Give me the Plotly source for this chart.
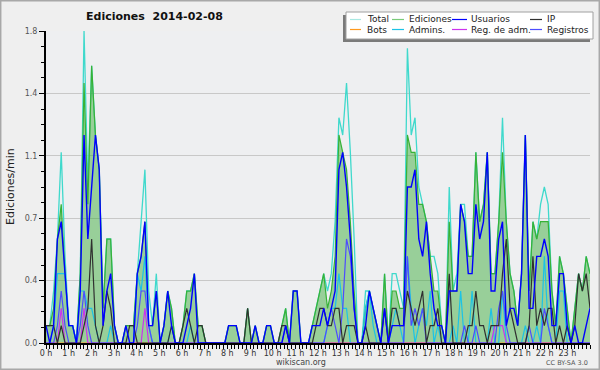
import plotly.graph_objects as go

# ---------------- data (edits per minute, 10-minute bins, 2014-02-08) ----------------
hour_labels = [f"{h} h" for h in range(24)]
y_tick_vals = [0, 0.36, 0.72, 1.08, 1.44, 1.8]
y_tick_text = ["0.0", "0.4", "0.7", "1.1", "1.4", "1.8"]

total = [
    0.1, 0.1, 0.3, 0.6, 1.1, 0.5, 0.1, 0.1, 0.0, 0.4,
    1.8, 0.9, 1.6, 1.2, 1.0, 0.2, 0.6, 0.6, 0.1, 0.0,
    0.0, 0.1, 0.1, 0.1, 0.4, 0.7, 1.0, 0.3, 0.1, 0.4,
    0.0, 0.1, 0.3, 0.2, 0.0, 0.0, 0.1, 0.3, 0.3, 0.4,
    0.1, 0.1, 0.0, 0.0, 0.0, 0.0, 0.0, 0.0, 0.1, 0.1,
    0.1, 0.0, 0.0, 0.2, 0.0, 0.1, 0.0, 0.0, 0.1, 0.1,
    0.0, 0.0, 0.1, 0.2, 0.0, 0.3, 0.3, 0.0, 0.0, 0.0,
    0.1, 0.2, 0.3, 0.4, 0.3, 0.4, 0.7, 1.3, 1.2, 1.5,
    1.1, 0.6, 0.0, 0.0, 0.3, 0.3, 0.2, 0.1, 0.0, 0.4,
    0.0, 0.4, 0.4, 0.3, 0.2, 1.7, 1.2, 1.3, 0.9, 0.8,
    0.7, 0.5, 0.5, 0.4, 0.1, 0.0, 0.9, 0.3, 0.4, 0.8,
    0.8, 0.5, 0.5, 1.1, 0.7, 0.8, 1.1, 0.4, 0.4, 0.7,
    1.3, 0.7, 0.4, 0.3, 0.1, 0.4, 1.2, 0.3, 0.7, 0.6,
    0.8, 0.9, 0.8, 0.3, 0.1, 0.5, 0.4, 0.2, 0.0, 0.2,
    0.4, 0.3, 0.5, 0.4,
]

ediciones = [
    0.1, 0.1, 0.2, 0.6, 0.8, 0.4, 0.1, 0.1, 0.0, 0.4,
    1.5, 0.8, 1.6, 1.2, 1.0, 0.2, 0.6, 0.6, 0.1, 0.0,
    0.0, 0.1, 0.1, 0.1, 0.4, 0.5, 0.7, 0.1, 0.1, 0.3,
    0.0, 0.1, 0.3, 0.2, 0.0, 0.0, 0.1, 0.3, 0.3, 0.4,
    0.1, 0.1, 0.0, 0.0, 0.0, 0.0, 0.0, 0.0, 0.1, 0.1,
    0.1, 0.0, 0.0, 0.2, 0.0, 0.1, 0.0, 0.0, 0.1, 0.1,
    0.0, 0.0, 0.1, 0.2, 0.0, 0.3, 0.3, 0.0, 0.0, 0.0,
    0.1, 0.2, 0.3, 0.4, 0.2, 0.3, 0.5, 1.2, 1.1, 1.0,
    0.7, 0.3, 0.0, 0.0, 0.2, 0.3, 0.2, 0.1, 0.0, 0.4,
    0.0, 0.3, 0.3, 0.2, 0.2, 1.2, 1.1, 1.1, 0.8, 0.8,
    0.7, 0.5, 0.3, 0.3, 0.1, 0.0, 0.7, 0.3, 0.3, 0.8,
    0.7, 0.5, 0.5, 1.1, 0.7, 0.8, 1.1, 0.4, 0.4, 0.7,
    1.1, 0.7, 0.4, 0.3, 0.1, 0.4, 1.2, 0.3, 0.7, 0.6,
    0.7, 0.7, 0.7, 0.3, 0.1, 0.5, 0.4, 0.2, 0.0, 0.2,
    0.4, 0.3, 0.5, 0.4,
]

usuarios = [
    0.1, 0.0, 0.1, 0.6, 0.7, 0.4, 0.1, 0.1, 0.0, 0.3,
    1.2, 0.6, 0.9, 1.2, 1.0, 0.1, 0.3, 0.4, 0.1, 0.0,
    0.0, 0.1, 0.0, 0.0, 0.4, 0.5, 0.7, 0.1, 0.1, 0.3,
    0.0, 0.1, 0.3, 0.1, 0.0, 0.0, 0.0, 0.1, 0.2, 0.4,
    0.0, 0.0, 0.0, 0.0, 0.0, 0.0, 0.0, 0.0, 0.1, 0.1,
    0.1, 0.0, 0.0, 0.0, 0.0, 0.1, 0.0, 0.0, 0.1, 0.1,
    0.0, 0.0, 0.0, 0.1, 0.0, 0.3, 0.3, 0.0, 0.0, 0.0,
    0.1, 0.1, 0.1, 0.2, 0.1, 0.2, 0.3, 1.0, 1.1, 0.9,
    0.6, 0.2, 0.0, 0.0, 0.1, 0.3, 0.2, 0.1, 0.0, 0.2,
    0.0, 0.1, 0.1, 0.1, 0.1, 0.9, 0.9, 1.0, 0.6, 0.5,
    0.7, 0.4, 0.2, 0.1, 0.1, 0.0, 0.3, 0.3, 0.3, 0.8,
    0.7, 0.4, 0.4, 0.8, 0.6, 0.7, 1.1, 0.3, 0.3, 0.6,
    0.7, 0.1, 0.2, 0.2, 0.1, 0.4, 1.2, 0.2, 0.2, 0.5,
    0.5, 0.6, 0.5, 0.1, 0.1, 0.4, 0.4, 0.1, 0.0, 0.1,
    0.0, 0.0, 0.1, 0.2,
]

ip = [
    0.1, 0.1, 0.1, 0.0, 0.1, 0.0, 0.0, 0.0, 0.0, 0.0,
    0.1, 0.2, 0.6, 0.1, 0.0, 0.1, 0.3, 0.2, 0.0, 0.0,
    0.0, 0.0, 0.1, 0.1, 0.0, 0.0, 0.0, 0.0, 0.0, 0.0,
    0.0, 0.0, 0.0, 0.1, 0.0, 0.0, 0.1, 0.2, 0.1, 0.0,
    0.1, 0.1, 0.0, 0.0, 0.0, 0.0, 0.0, 0.0, 0.0, 0.0,
    0.0, 0.0, 0.0, 0.2, 0.0, 0.0, 0.0, 0.0, 0.0, 0.0,
    0.0, 0.0, 0.1, 0.1, 0.0, 0.0, 0.0, 0.0, 0.0, 0.0,
    0.0, 0.1, 0.2, 0.2, 0.1, 0.1, 0.2, 0.2, 0.0, 0.1,
    0.1, 0.1, 0.0, 0.0, 0.1, 0.0, 0.0, 0.0, 0.0, 0.2,
    0.0, 0.2, 0.2, 0.1, 0.1, 0.3, 0.2, 0.1, 0.2, 0.3,
    0.0, 0.1, 0.1, 0.2, 0.0, 0.0, 0.4, 0.0, 0.0, 0.0,
    0.0, 0.1, 0.1, 0.3, 0.1, 0.1, 0.0, 0.1, 0.1, 0.1,
    0.4, 0.6, 0.2, 0.1, 0.0, 0.0, 0.0, 0.1, 0.5, 0.1,
    0.2, 0.1, 0.2, 0.2, 0.0, 0.1, 0.0, 0.1, 0.0, 0.1,
    0.4, 0.3, 0.4, 0.2,
]

bots = [
    0.0, 0.0, 0.0, 0.0, 0.0, 0.0, 0.0, 0.0, 0.0, 0.0,
    0.0, 0.0, 0.0, 0.0, 0.0, 0.0, 0.0, 0.0, 0.0, 0.0,
    0.0, 0.0, 0.0, 0.0, 0.0, 0.0, 0.0, 0.0, 0.0, 0.0,
    0.0, 0.0, 0.0, 0.0, 0.0, 0.0, 0.0, 0.0, 0.0, 0.0,
    0.0, 0.0, 0.0, 0.0, 0.0, 0.0, 0.0, 0.0, 0.0, 0.0,
    0.0, 0.0, 0.0, 0.0, 0.0, 0.0, 0.0, 0.0, 0.0, 0.0,
    0.0, 0.0, 0.0, 0.0, 0.0, 0.0, 0.0, 0.0, 0.0, 0.0,
    0.0, 0.0, 0.0, 0.0, 0.0, 0.0, 0.0, 0.0, 0.0, 0.0,
    0.0, 0.0, 0.0, 0.0, 0.0, 0.0, 0.0, 0.0, 0.0, 0.0,
    0.0, 0.0, 0.0, 0.0, 0.0, 0.0, 0.0, 0.0, 0.0, 0.0,
    0.0, 0.0, 0.0, 0.0, 0.0, 0.0, 0.0, 0.0, 0.0, 0.0,
    0.0, 0.0, 0.0, 0.0, 0.0, 0.0, 0.0, 0.0, 0.0, 0.0,
    0.0, 0.0, 0.0, 0.0, 0.0, 0.0, 0.0, 0.0, 0.0, 0.0,
    0.0, 0.0, 0.0, 0.0, 0.0, 0.0, 0.0, 0.0, 0.0, 0.0,
    0.0, 0.0, 0.0, 0.0,
]

admins = [
    0.0, 0.0, 0.1, 0.4, 0.4, 0.4, 0.1, 0.1, 0.0, 0.3,
    0.3, 0.2, 0.2, 0.1, 0.0, 0.0, 0.0, 0.1, 0.0, 0.0,
    0.0, 0.0, 0.0, 0.0, 0.4, 0.3, 0.5, 0.1, 0.0, 0.0,
    0.0, 0.0, 0.0, 0.1, 0.0, 0.0, 0.0, 0.0, 0.1, 0.0,
    0.0, 0.0, 0.0, 0.0, 0.0, 0.0, 0.0, 0.0, 0.0, 0.0,
    0.0, 0.0, 0.0, 0.0, 0.0, 0.0, 0.0, 0.0, 0.0, 0.0,
    0.0, 0.0, 0.0, 0.0, 0.0, 0.0, 0.0, 0.0, 0.0, 0.0,
    0.0, 0.0, 0.0, 0.0, 0.1, 0.2, 0.2, 0.4, 0.2, 0.2,
    0.0, 0.0, 0.0, 0.0, 0.2, 0.3, 0.1, 0.0, 0.0, 0.0,
    0.0, 0.1, 0.2, 0.1, 0.0, 0.5, 0.2, 0.0, 0.1, 0.2,
    0.1, 0.3, 0.0, 0.1, 0.0, 0.0, 0.0, 0.1, 0.0, 0.3,
    0.0, 0.0, 0.3, 0.0, 0.0, 0.0, 0.0, 0.2, 0.0, 0.0,
    0.3, 0.0, 0.0, 0.0, 0.0, 0.0, 0.1, 0.0, 0.0, 0.1,
    0.0, 0.5, 0.1, 0.0, 0.0, 0.3, 0.3, 0.0, 0.0, 0.0,
    0.0, 0.0, 0.0, 0.0,
]

reg_adm = [
    0.0, 0.0, 0.0, 0.0, 0.2, 0.0, 0.0, 0.0, 0.0, 0.0,
    0.2, 0.0, 0.0, 0.0, 0.0, 0.0, 0.0, 0.0, 0.0, 0.0,
    0.0, 0.0, 0.0, 0.0, 0.0, 0.0, 0.2, 0.0, 0.0, 0.0,
    0.0, 0.0, 0.0, 0.0, 0.0, 0.0, 0.0, 0.0, 0.0, 0.0,
    0.0, 0.0, 0.0, 0.0, 0.0, 0.0, 0.0, 0.0, 0.0, 0.0,
    0.0, 0.0, 0.0, 0.0, 0.0, 0.0, 0.0, 0.0, 0.0, 0.0,
    0.0, 0.0, 0.0, 0.0, 0.0, 0.0, 0.0, 0.0, 0.0, 0.0,
    0.0, 0.0, 0.0, 0.0, 0.0, 0.0, 0.0, 0.0, 0.0, 0.0,
    0.0, 0.0, 0.0, 0.0, 0.0, 0.0, 0.0, 0.0, 0.0, 0.0,
    0.0, 0.0, 0.0, 0.0, 0.0, 0.0, 0.0, 0.0, 0.0, 0.0,
    0.0, 0.0, 0.0, 0.0, 0.0, 0.0, 0.0, 0.0, 0.0, 0.0,
    0.0, 0.0, 0.0, 0.0, 0.0, 0.0, 0.0, 0.0, 0.1, 0.1,
    0.1, 0.0, 0.0, 0.0, 0.0, 0.0, 0.0, 0.0, 0.0, 0.0,
    0.0, 0.0, 0.0, 0.0, 0.0, 0.0, 0.0, 0.0, 0.0, 0.0,
    0.0, 0.0, 0.0, 0.0,
]

registros = [
    0.0, 0.0, 0.0, 0.1, 0.3, 0.1, 0.0, 0.0, 0.0, 0.1,
    0.3, 0.1, 0.0, 0.0, 0.0, 0.0, 0.0, 0.0, 0.0, 0.0,
    0.0, 0.0, 0.0, 0.0, 0.1, 0.3, 0.3, 0.1, 0.0, 0.0,
    0.0, 0.0, 0.0, 0.0, 0.0, 0.0, 0.0, 0.0, 0.0, 0.0,
    0.0, 0.0, 0.0, 0.0, 0.0, 0.0, 0.0, 0.0, 0.0, 0.0,
    0.0, 0.0, 0.0, 0.0, 0.0, 0.0, 0.0, 0.0, 0.0, 0.0,
    0.0, 0.0, 0.0, 0.1, 0.0, 0.0, 0.0, 0.0, 0.0, 0.0,
    0.0, 0.0, 0.0, 0.0, 0.1, 0.2, 0.1, 0.0, 0.2, 0.6,
    0.5, 0.2, 0.0, 0.0, 0.0, 0.0, 0.0, 0.0, 0.0, 0.0,
    0.0, 0.0, 0.0, 0.0, 0.0, 0.5, 0.1, 0.2, 0.1, 0.2,
    0.0, 0.0, 0.0, 0.0, 0.0, 0.0, 0.0, 0.0, 0.0, 0.0,
    0.1, 0.0, 0.0, 0.1, 0.0, 0.0, 0.0, 0.0, 0.0, 0.2,
    0.3, 0.1, 0.0, 0.0, 0.0, 0.0, 0.0, 0.1, 0.0, 0.0,
    0.0, 0.2, 0.1, 0.0, 0.0, 0.0, 0.0, 0.0, 0.0, 0.0,
    0.0, 0.0, 0.0, 0.0,
]

# ---------------- geometry helpers ----------------
W, H = 600, 370
ML, MR, MT, MB = 46, 10, 31, 27
PW, PH = W - ML - MR, H - MT - MB


def px(xp):
    return (xp - ML) / PW


def py(yp):
    return (H - MB - yp) / PH


n = len(total)
xs = list(range(n))
FONT = "DejaVu Sans"

series = [
    ("Total", total, "#3fd9cc", 1.3),
    ("Ediciones", ediciones, "#37b237", 1.2),
    ("Bots", bots, "#ff9a1f", 1.1),
    ("Admins.", admins, "#1cc3e6", 1.2),
    ("Reg. de adm.", reg_adm, "#cc33ee", 1.2),
    ("Registros", registros, "#4d4dff", 1.2),
    ("IP", ip, "#303030", 1.2),
    ("Usuarios", usuarios, "#0000ff", 1.4),
]

fig = go.Figure()
for name, vals, col, w in series:
    kw = {}
    if name == "Ediciones":
        kw = dict(fill="tozeroy", fillcolor="rgba(50,170,50,0.46)")
    fig.add_trace(go.Scatter(x=xs, y=vals, mode="lines", name=name,
                             line=dict(color=col, width=w), showlegend=False, **kw))

fig.update_layout(
    width=W, height=H, autosize=False,
    margin=dict(l=ML, r=MR, t=MT, b=MB, pad=0),
    paper_bgcolor="#efefef", plot_bgcolor="#eeeff1",
    font=dict(family=FONT, size=8, color="#333"),
)

fig.update_xaxes(
    range=[0, n - 1], tickmode="array",
    tickvals=[h * (n - 1) / 24 for h in range(24)], ticktext=hour_labels,
    ticks="outside", ticklen=4, tickcolor="black", tickwidth=1,
    ticklabelstandoff=-3,
    showline=True, linecolor="black", linewidth=2,
    showgrid=False, zeroline=False,
    tickfont=dict(family=FONT, size=8, color="#333"),
    minor=dict(ticks="outside", ticklen=4, tickcolor="black", tickwidth=1,
               tickmode="linear", tick0=0, dtick=(n - 1) / 144, showgrid=False),
)
fig.update_yaxes(
    range=[0, 1.8], tickmode="array", tickvals=y_tick_vals, ticktext=y_tick_text,
    ticks="outside", ticklen=5, tickcolor="black", tickwidth=1,
    showline=True, linecolor="black", linewidth=2,
    showgrid=True, gridcolor="#c8c8c8", gridwidth=1, zeroline=False,
    tickfont=dict(family=FONT, size=8, color="#555"),
    minor=dict(ticks="outside", ticklen=3, tickcolor="black", tickwidth=1,
               tickmode="linear", tick0=0, dtick=0.09, showgrid=False),
)

shapes = []
# outer frame
shapes.append(dict(type="rect", xref="paper", yref="paper",
                   x0=px(0.7), x1=px(599.3), y0=py(369.3), y1=py(0.7),
                   line=dict(color="#a8a8a8", width=1.5), fillcolor="rgba(0,0,0,0)", layer="above"))
# legend shadow + box
shapes.append(dict(type="rect", xref="paper", yref="paper",
                   x0=px(343), x1=px(590), y0=py(42), y1=py(15),
                   line=dict(width=0), fillcolor="#7a7a7a", layer="above"))
shapes.append(dict(type="rect", xref="paper", yref="paper",
                   x0=px(346), x1=px(593), y0=py(39), y1=py(12),
                   line=dict(color="#a0a0a0", width=1), fillcolor="white", layer="above"))

legend_layout = [
    ("Total", 350, 361, 365, 19.5), ("Ediciones", 392, 404, 407, 19.5),
    ("Usuarios", 452, 467, 469, 19.5), ("IP", 530, 542, 545, 19.5),
    ("Bots", 350, 361, 365, 29.5), ("Admins.", 392, 404, 407, 29.5),
    ("Reg. de adm.", 452, 467, 469, 29.5), ("Registros", 530, 542, 545, 29.5),
]
colors = {s[0]: s[2] for s in series}
annotations = []
for name, x0, x1, xt, yy in legend_layout:
    col = colors[name]
    if name == "Total":
        col = "#a8e8e2"
    if name == "Ediciones":
        col = "#7acb7a"
    shapes.append(dict(type="line", xref="paper", yref="paper",
                       x0=px(x0), x1=px(x1), y0=py(yy), y1=py(yy),
                       line=dict(color=col, width=1.2), layer="above"))
    annotations.append(dict(xref="paper", yref="paper", x=px(xt), y=py(yy),
                            xanchor="left", yanchor="middle", showarrow=False,
                            text=name, font=dict(family=FONT, size=9, color="#222")))

annotations += [
    dict(xref="paper", yref="paper", x=px(154), y=py(16.5), xanchor="center", yanchor="middle",
         showarrow=False, text="<b>Ediciones  2014-02-08</b>",
         font=dict(family=FONT, size=11, color="#111")),
    dict(xref="paper", yref="paper", x=px(10), y=py(187), xanchor="center", yanchor="middle",
         showarrow=False, text="Ediciones/min", textangle=-90,
         font=dict(family=FONT, size=11, color="#222")),
    dict(xref="paper", yref="paper", x=px(301), y=py(362), xanchor="center", yanchor="middle",
         showarrow=False, text="wikiscan.org", font=dict(family=FONT, size=8, color="#444")),
    dict(xref="paper", yref="paper", x=px(590), y=py(362.5), xanchor="right", yanchor="middle",
         showarrow=False, text="CC BY-SA 3.0", font=dict(family=FONT, size=6.5, color="#555")),
]

fig.update_layout(shapes=shapes, annotations=annotations)
fig.write_html("out.html", config={"displayModeBar": False},
               post_script="document.body.style.margin='0';")
